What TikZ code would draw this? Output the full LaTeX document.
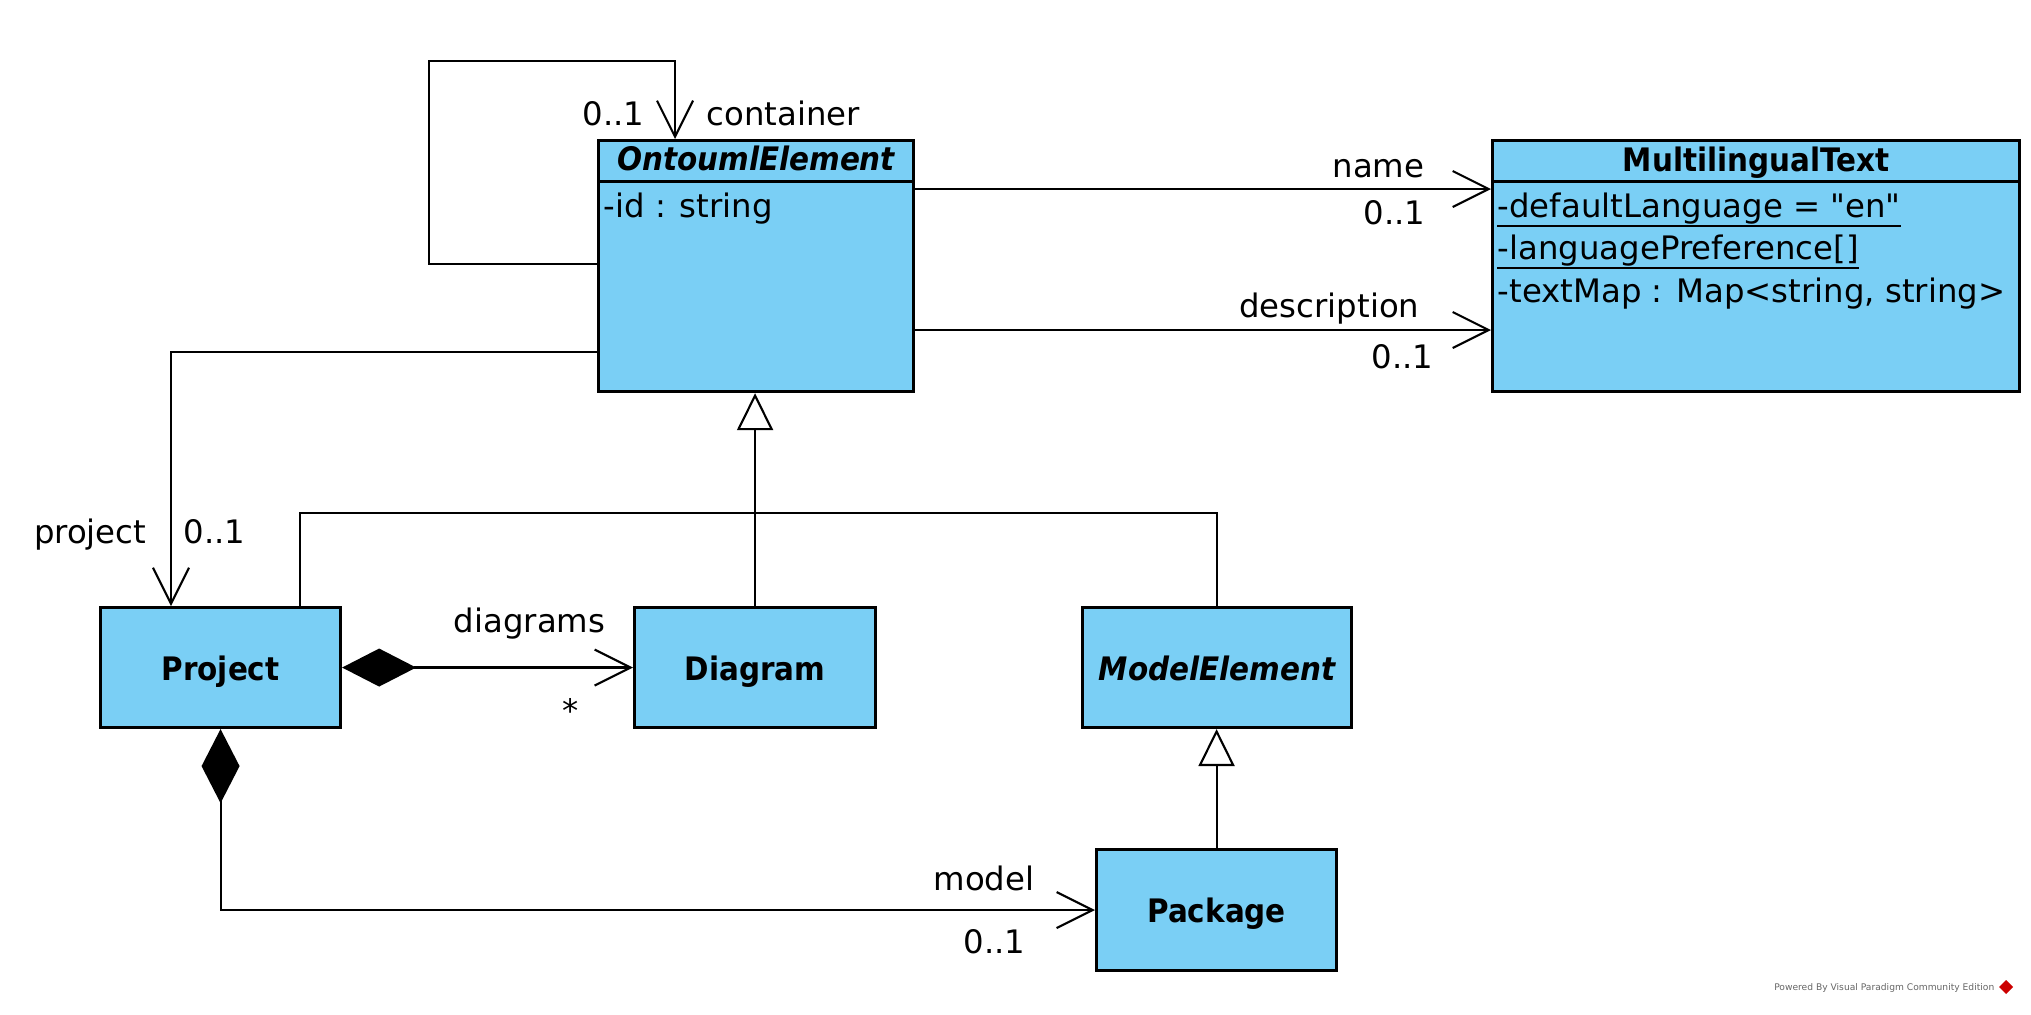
\documentclass[tikz,border=0pt]{standalone}
\usepackage{fontspec}
\setmainfont{DejaVu Sans}[Ligatures=TeXOff]
\newfontfamily\namefont{DejaVu Sans}[FakeStretch=0.91,Ligatures=TeXOff]
\usetikzlibrary{positioning,arrows.meta,calc}
\definecolor{vpblue}{RGB}{122,207,245}

\begin{document}
\begin{tikzpicture}[
		  x=0.01cm, y=-0.01cm,
		  font=\fontsize{9.2}{11}\selectfont,
		  umlclass/.style={draw,line width=0.85pt,fill=vpblue,anchor=north west,inner sep=0pt,
		    font=\fontsize{9.2}{11}\namefont\bfseries,text height=0.73em,text depth=0pt},
		  classname/.style={anchor=base,inner sep=0pt,font=\fontsize{9.2}{11}\namefont\bfseries},
		  attr/.style={anchor=base west,inner sep=0pt},
		  role/.style={inner sep=0pt},
		  assoc/.style={line width=0.6pt,-{Straight Barb[length=3.6mm,width=3.6mm]}},
		  comp/.style={line width=0.6pt,{Diamond[length=7.4mm,width=3.8mm]}-{Straight Barb[length=3.6mm,width=3.6mm]}},
		  gen/.style={line width=0.6pt,-{Triangle[length=3.7mm,width=3.6mm,fill=white]}}
		]
		\useasboundingbox (0,0) rectangle (2031,1014);

		% classes
		\node[umlclass,minimum width=3.15cm,minimum height=2.51cm] (ontouml) at (597,139) {};
		\node[umlclass,minimum width=5.27cm,minimum height=2.51cm] (multi) at (1491,139) {};
		\node[umlclass,minimum width=2.4cm,minimum height=1.2cm] (project) at (99,606) {Project};
		\node[umlclass,minimum width=2.41cm,minimum height=1.2cm] (diagram) at (633,606) {Diagram};
		\node[umlclass,minimum width=2.69cm,minimum height=1.2cm] (modelel) at (1081,606) {\itshape ModelElement};
		\node[umlclass,minimum width=2.4cm,minimum height=1.21cm] (package) at (1095,848) {Package};

		\draw[line width=0.85pt] ($(ontouml.north west)+(0,42)$) -- ($(ontouml.north east)+(0,42)$);
		\draw[line width=0.85pt] ($(multi.north west)+(0,42)$) -- ($(multi.north east)+(0,42)$);
		\node[classname,font=\fontsize{9.2}{11}\namefont\bfseries\itshape] (ontoumlname) at ($(ontouml.north)+(0,31)$) {OntoumlElement};
		\node[attr] (ontoumlid) at ($(ontouml.north west)+(6,78)$) {-id : string};
		\node[classname] (multiname) at ($(multi.north)+(0,32)$) {MultilingualText};
		\node[attr] (multilang) at ($(multi.north west)+(6,78)$) {-defaultLanguage = "en"};
		\node[attr] (multipref) at ($(multi.north west)+(6,120)$) {-languagePreference[]};
		\node[attr] (multimap) at ($(multi.north west)+(6,163)$) {-textMap : Map<string, string>};
		% static attributes are underlined
		\draw[line width=0.75pt] ($(multilang.base west)+(0,9)$) -- ($(multilang.base east)+(0,9)$);
		\draw[line width=0.75pt] ($(multipref.base west)+(0,9)$) -- ($(multipref.base east)+(0,9)$);

		% associations
		\coordinate (loopa) at ($(ontouml.north west)+(0,125)$);
		\coordinate (loopb) at ($(ontouml.north west)+(78,0)$);
		\draw[assoc] (loopa) -| (429,61) -| (loopb);
		\node[role,anchor=base east] (containermult) at (645,125) {0..1};
		\node[role,anchor=base west] (containerrole) at (706,125) {container};

		\draw[assoc] ($(ontouml.north east)+(0,50)$) -- ($(multi.north west)+(0,50)$);
		\node[role,anchor=base east] (namerole) at (1425,177) {name};
		\node[role,anchor=base east] (namemult) at (1426,224) {0..1};
		\draw[assoc] ($(ontouml.north east)+(0,191)$) -- ($(multi.north west)+(0,191)$);
		\node[role,anchor=base east] (descrole) at (1420,317) {description};
		\node[role,anchor=base east] (descmult) at (1434,368) {0..1};

		\draw[assoc] ($(ontouml.north west)+(0,213)$) -| ($(project.north west)+(72,0)$);
		\node[role,anchor=base east] (projectrole) at (147,543) {project};
		\node[role,anchor=base west] (projectmult) at (183,543) {0..1};

		% generalizations
		\draw[gen] (diagram.north) -- (diagram.north |- ontouml.south);
		\draw[line width=0.6pt] ($(project.north west)+(201,0)$) |- ($(modelel.north)+(0,-93)$) -- (modelel.north);
		\draw[gen] (package.north) -- (package.north |- modelel.south);

		% compositions
		\draw[comp] (project.east) -- (diagram.west);
		\node[role,anchor=base east] (diagramsrole) at (606,632) {diagrams};
		\node[role,anchor=base] (diagramsmult) at (571,722) {*};
		\draw[comp] (project.south) |- (package.west);
		\node[role,anchor=base east] (modelrole) at (1035,890) {model};
		\node[role,anchor=base east] (modelmult) at (1026,953) {0..1};

		\node[anchor=base east,inner sep=0pt,text=black!60,font=\fontsize{2.6}{3}\selectfont] (vpmark) at (1995,990) {Powered By Visual Paradigm Community Edition};
		\fill[red!80!black] (2006,980) -- (2013,987) -- (2006,994) -- (1999,987) -- cycle;
		\end{tikzpicture}
\end{document}
